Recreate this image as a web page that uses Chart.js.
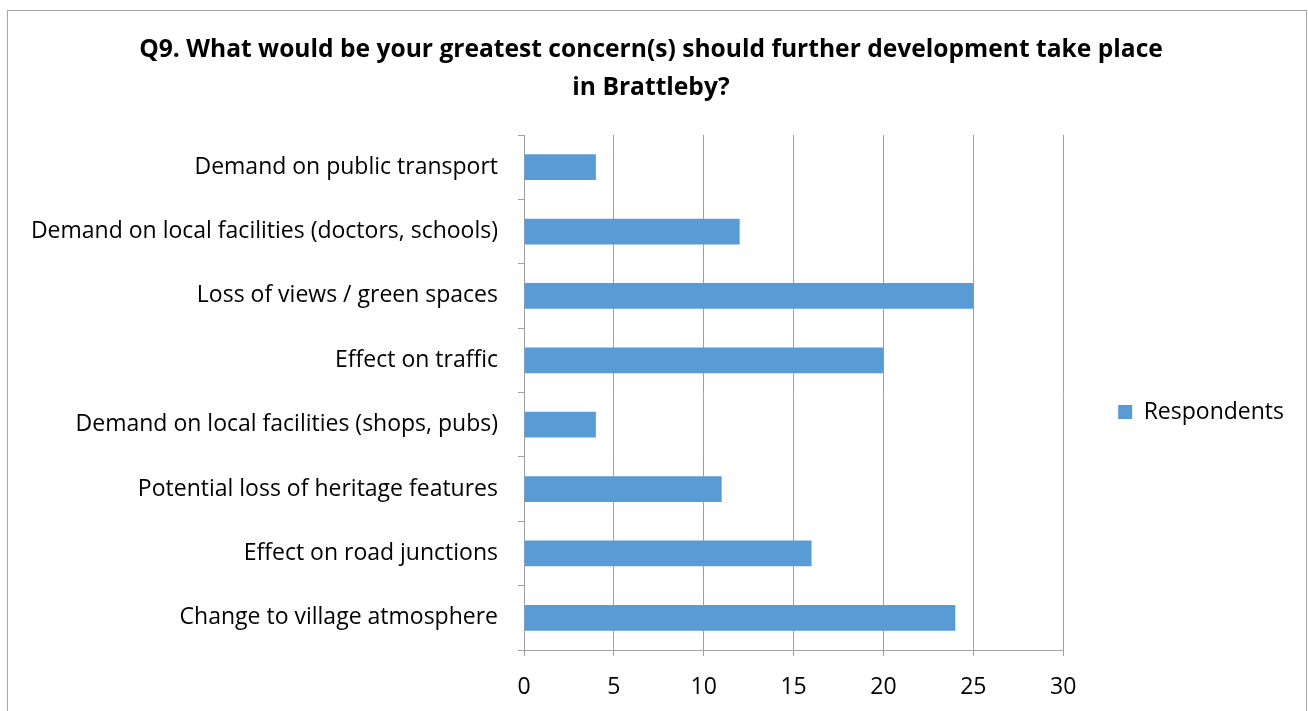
<!DOCTYPE html>
<html><head><meta charset="utf-8">
<script src="https://cdn.jsdelivr.net/npm/chart.js@4"></script>
<style>
html,body{margin:0;padding:0;background:#fff;overflow:hidden}
#box{position:absolute;left:7px;top:10px;width:1298px;height:720px;border:1px solid #a6a6a6;background:#fff}
canvas{display:block}
</style></head><body>
<div id="box"><canvas id="c" width="1298" height="720"></canvas></div>
<script>
const categories = [
  'Demand on public transport',
  'Demand on local facilities (doctors, schools)',
  'Loss of views / green spaces',
  'Effect on traffic',
  'Demand on local facilities (shops, pubs)',
  'Potential loss of heritage features',
  'Effect on road junctions',
  'Change to village atmosphere'
];
const respondents = [4, 12, 25, 20, 4, 11, 16, 24];
const xTicks = [0, 5, 10, 15, 20, 25, 30];
const seriesName = 'Respondents';
const titleLines = [
  'Q9. What would be your greatest concern(s) should further development take place',
  'in Brattleby?'
];

const FONT = "'Open Sans', 'Noto Sans', sans-serif";
const GRID = '#a0a0a0';

const legendShift = {
  id: 'legendShift',
  afterLayout(chart) {
    const lg = chart.legend;
    if (lg) { lg.top += 41; lg.bottom += 41; }
  }
};

new Chart(document.getElementById('c'), {
  type: 'bar',
  data: {
    labels: categories,
    datasets: [{
      label: seriesName,
      data: respondents,
      backgroundColor: '#5b9bd5',
      borderWidth: 0,
      barPercentage: 0.4,
      categoryPercentage: 1.0
    }]
  },
  options: {
    indexAxis: 'y',
    responsive: false,
    animation: false,
    layout: { padding: { left: 0, right: 12, top: 0, bottom: 0 } },
    plugins: {
      title: {
        display: true,
        text: titleLines,
        color: '#000',
        font: { family: FONT, size: 24.6, weight: 'bold', lineHeight: 38 / 24.6 },
        padding: { top: 20, bottom: 28 }
      },
      legend: {
        display: true,
        position: 'right',
        align: 'center',
        labels: {
          boxWidth: 14,
          boxHeight: 14,
          padding: 55,
          color: '#000',
          font: { family: FONT, size: 23 }
        }
      },
      tooltip: { enabled: false }
    },
    scales: {
      x: {
        min: 0,
        max: 30,
        afterFit: s => { s.height = 81; },
        afterBuildTicks: s => { s.ticks = xTicks.map(v => ({ value: v })); },
        grid: { color: GRID, lineWidth: 1, tickLength: 6, drawTicks: true },
        border: { color: GRID, width: 1 },
        ticks: { color: '#000', padding: 18, font: { family: FONT, size: 23 } }
      },
      y: {
        afterFit: s => { s.width = 516; },
        grid: { drawOnChartArea: false, color: GRID, tickLength: 6, offset: true },
        border: { color: GRID, width: 1 },
        ticks: { color: '#000', padding: 20, font: { family: FONT, size: 23 } }
      }
    }
  },
  plugins: [legendShift]
});
</script>
</body></html>
